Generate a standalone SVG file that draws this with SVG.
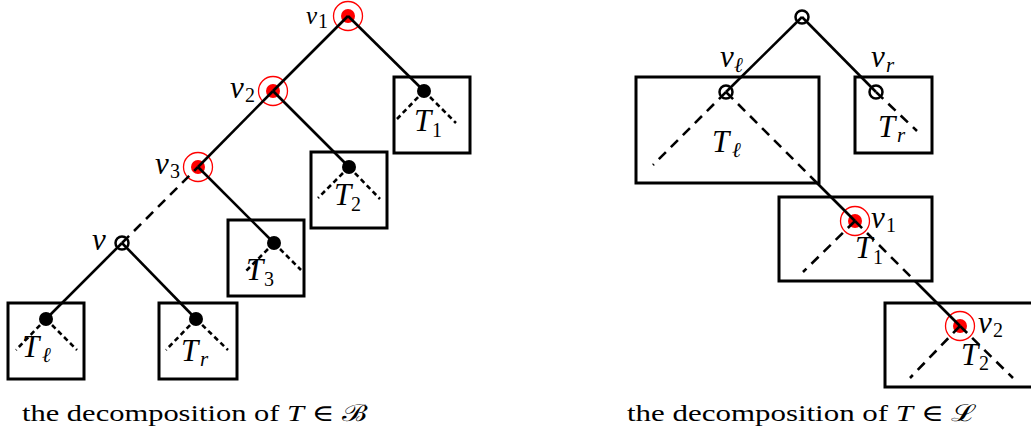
<svg xmlns="http://www.w3.org/2000/svg" width="1031" height="433" viewBox="0 0 1031 433">
<style>
.box{fill:none;stroke:#000;stroke-width:3}
.ln{stroke:#000;stroke-width:2.6;fill:none}
.dl{stroke-dasharray:10 7}
.ds{stroke-dasharray:5 3.5}
.open{fill:none;stroke:#000;stroke-width:2.5}
.blk{fill:#000}
.rdot{fill:#f00}
.ring{fill:none;stroke:#f00;stroke-width:1.3}
.lab{font-family:"Liberation Serif",serif;font-style:italic;font-size:31px}
.sub{font-family:"Liberation Serif",serif;font-size:20px}
.subi{font-family:"Liberation Serif",serif;font-size:21px;font-style:italic}
.cap{font-family:"Liberation Serif","DejaVu Serif",serif;font-size:23px}
</style>
<g id="boxes">
<rect class="box" x="394" y="77" width="76" height="76"/>
<rect class="box" x="311" y="152" width="76" height="76"/>
<rect class="box" x="228" y="220" width="76" height="76"/>
<rect class="box" x="8" y="303" width="76" height="76"/>
<rect class="box" x="159" y="303" width="78" height="76"/>
<rect class="box" x="636" y="77" width="183" height="106"/>
<rect class="box" x="855" y="77" width="77" height="76"/>
<rect class="box" x="779" y="197" width="153" height="84"/>
<rect class="box" x="885" y="303" width="160" height="84"/>
</g>
<g id="v1L"><circle class="rdot" cx="348" cy="16" r="7"/><circle class="ring" cx="348" cy="16" r="14.5"/>
<text class="lab" x="306" y="24" style="font-size:25px">v</text><text class="sub" x="318" y="28">1</text></g>
<g id="v2L"><circle class="rdot" cx="273" cy="91" r="7"/><circle class="ring" cx="273" cy="91" r="14.5"/>
<text class="lab" x="230" y="98">v</text><text class="sub" x="245" y="102">2</text></g>
<g id="v3L"><circle class="rdot" cx="198" cy="167" r="7"/><circle class="ring" cx="198" cy="167" r="14.5"/>
<text class="lab" x="155" y="174">v</text><text class="sub" x="170" y="178">3</text></g>
<g id="v1R"><circle class="rdot" cx="855" cy="221" r="7"/><circle class="ring" cx="855" cy="221" r="14.5"/>
<text class="lab" x="871" y="228">v</text><text class="sub" x="886" y="232">1</text></g>
<g id="v2R"><circle class="rdot" cx="960" cy="326" r="7"/><circle class="ring" cx="960" cy="326" r="14.5"/>
<text class="lab" x="978" y="333">v</text><text class="sub" x="993" y="337">2</text></g>
<g id="connectors">
<line class="ln" x1="348" y1="16" x2="273" y2="91"/>
<line class="ln" x1="348" y1="16" x2="424" y2="91"/>
<line class="ln" x1="273" y1="91" x2="198" y2="167"/>
<line class="ln" x1="273" y1="91" x2="349" y2="167"/>
<line class="ln dl" x1="122" y1="243" x2="198" y2="167"/>
<line class="ln" x1="198" y1="167" x2="274" y2="243"/>
<line class="ln" x1="122" y1="243" x2="46" y2="319"/>
<line class="ln" x1="122" y1="243" x2="196" y2="319"/>
<line class="ln ds" x1="424" y1="91" x2="397" y2="119"/>
<line class="ln ds" x1="424" y1="91" x2="456" y2="123"/>
<line class="ln ds" x1="349" y1="167" x2="318" y2="198"/>
<line class="ln ds" x1="349" y1="167" x2="380" y2="199"/>
<line class="ln ds" x1="274" y1="243" x2="244" y2="273"/>
<line class="ln ds" x1="274" y1="243" x2="301" y2="270"/>
<line class="ln ds" x1="46" y1="319" x2="16" y2="350"/>
<line class="ln ds" x1="46" y1="319" x2="77" y2="350"/>
<line class="ln ds" x1="196" y1="319" x2="166" y2="350"/>
<line class="ln ds" x1="196" y1="319" x2="228" y2="350"/>
<line class="ln" x1="802" y1="17" x2="726" y2="92"/>
<line class="ln" x1="802" y1="17" x2="876" y2="92"/>
<line class="ln dl" x1="726" y1="92" x2="653" y2="165"/>
<line class="ln dl" x1="726" y1="92" x2="817" y2="183"/>
<line class="ln" x1="817" y1="183" x2="855" y2="221"/>
<line class="ln dl" x1="876" y1="92" x2="917" y2="131"/>
<line class="ln dl" x1="855" y1="221" x2="803" y2="272"/>
<line class="ln dl" x1="855" y1="221" x2="915" y2="281"/>
<line class="ln" x1="915" y1="281" x2="960" y2="326"/>
<line class="ln dl" x1="960" y1="326" x2="910" y2="378"/>
<line class="ln dl" x1="960" y1="326" x2="1013" y2="378"/>
</g>
<g id="vL"><circle class="open" cx="122" cy="243" r="6.5"/><text class="lab" x="92" y="250">v</text></g>
<g id="T1L"><circle class="blk" cx="424" cy="91" r="7"/><text class="lab" x="414" y="131">T</text><text class="sub" x="432" y="137">1</text></g>
<g id="T2L"><circle class="blk" cx="349" cy="167" r="7"/><text class="lab" x="334" y="205">T</text><text class="sub" x="351" y="211">2</text></g>
<g id="T3L"><circle class="blk" cx="274" cy="243" r="7"/><text class="lab" x="246" y="280">T</text><text class="sub" x="264" y="286">3</text></g>
<g id="TlL"><circle class="blk" cx="46" cy="319" r="7"/><text class="lab" x="22" y="357">T</text><text class="subi" x="42" y="362">ℓ</text></g>
<g id="TrL"><circle class="blk" cx="196" cy="319" r="7"/><text class="lab" x="181" y="361">T</text><text class="subi" x="200" y="366">r</text></g>
<g id="rootR"><circle class="open" cx="802" cy="17" r="6.5"/></g>
<g id="vlR"><circle class="open" cx="726" cy="92" r="6.5"/><text class="lab" x="720" y="67">v</text><text class="subi" x="734" y="72">ℓ</text></g>
<g id="vrR"><circle class="open" cx="876" cy="92" r="6.5"/><text class="lab" x="871" y="67">v</text><text class="subi" x="886" y="72">r</text></g>
<g id="TlR"><text class="lab" x="712" y="152">T</text><text class="subi" x="732" y="157">ℓ</text></g>
<g id="TrR"><text class="lab" x="878" y="137">T</text><text class="subi" x="897" y="142">r</text></g>
<g id="T1R"><text class="lab" x="855" y="258">T</text><text class="sub" x="873" y="264">1</text></g>
<g id="T2R"><text class="lab" x="961" y="365">T</text><text class="sub" x="979" y="370">2</text></g>
<g id="captions">
<text class="cap" x="22" y="421" textLength="345" lengthAdjust="spacingAndGlyphs">the decomposition of <tspan font-style="italic">T</tspan> ∈ ℬ</text>
<text class="cap" x="627" y="421" textLength="350" lengthAdjust="spacingAndGlyphs">the decomposition of <tspan font-style="italic">T</tspan> ∈ ℒ</text>
</g>
</svg>
